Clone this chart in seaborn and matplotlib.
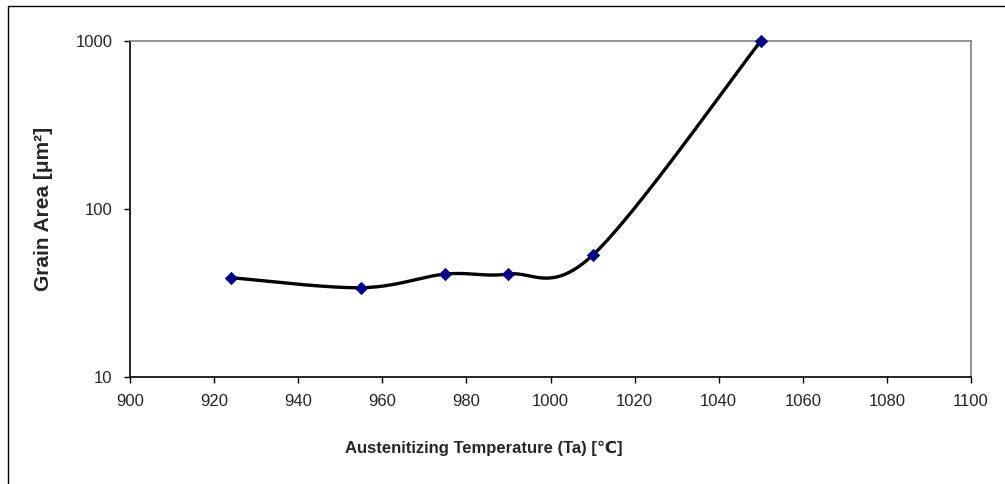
import numpy as np
import pandas as pd
import matplotlib
matplotlib.use('Agg')
import matplotlib.pyplot as plt
import seaborn as sns
from matplotlib.lines import Line2D

# data
temperature = [924, 955, 975, 990, 1010, 1050]
grain_area = [39, 34, 41, 41, 53, 1000]
x_ticks = [900, 920, 940, 960, 980, 1000, 1020, 1040, 1060, 1080, 1100]
y_ticks = [10, 100, 1000]

sns.set_style('white')
plt.rcParams['font.family'] = ['Liberation Sans', 'DejaVu Sans']


def smooth_curve(xs, ys, w=841.0, h=168.0, n=40):
    """Excel-like smoothed line: Catmull-Rom bezier in screen-like space."""
    u = (np.asarray(xs, float) - 900) / 200 * w
    v = np.log10(np.asarray(ys, float)) * h
    P = np.column_stack([u, v])
    P = np.vstack([P[0], P, P[-1]])
    out = []
    for i in range(1, len(P) - 2):
        p0, p1, p2, p3 = P[i - 1], P[i], P[i + 1], P[i + 2]
        c1 = p1 + (p2 - p0) / 6
        c2 = p2 - (p3 - p1) / 6
        t = np.linspace(0, 1, n)[:, None]
        seg = ((1 - t) ** 3) * p1 + 3 * ((1 - t) ** 2) * t * c1 \
            + 3 * (1 - t) * t ** 2 * c2 + t ** 3 * p2
        out.append(seg if i == 1 else seg[1:])
    out = np.vstack(out)
    return out[:, 0] / w * 200 + 900, 10 ** (out[:, 1] / h)


cx, cy = smooth_curve(temperature, grain_area)
curve = pd.DataFrame({'t': cx, 'a': cy})
pts = pd.DataFrame({'t': temperature, 'a': grain_area})

fig = plt.figure(figsize=(10.05, 4.84), dpi=100)
ax = fig.add_axes([130 / 1005, 1 - 377 / 484, 841 / 1005, 336 / 484])

sns.lineplot(data=curve, x='t', y='a', sort=False, color='black',
             linewidth=2.4, ax=ax, zorder=3)
sns.scatterplot(data=pts, x='t', y='a', marker='D', color='#000080',
                s=40, edgecolor='#000080', linewidth=0.5, ax=ax, zorder=4,
                clip_on=False)

ax.set_yscale('log')
ax.set_xlim(900, 1100)
ax.set_ylim(10, 1000)
ax.set_xticks(x_ticks)
ax.set_xticklabels([str(v) for v in x_ticks])
ax.set_yticks(y_ticks)
ax.set_yticklabels([str(v) for v in y_ticks])
ax.yaxis.set_minor_locator(matplotlib.ticker.NullLocator())

ax.tick_params(axis='both', direction='out', length=4.5, width=1,
               color='black', labelsize=12, pad=8,
               bottom=True, left=True)
for side in ['top', 'right']:
    ax.spines[side].set_color('#808080')
    ax.spines[side].set_linewidth(1.2)
for side in ['left', 'bottom']:
    ax.spines[side].set_color('black')
    ax.spines[side].set_linewidth(1.2)

ax.set_xlabel('Austenitizing Temperature (Ta) [\u2103]', fontsize=12,
              fontweight='bold')
ax.xaxis.set_label_coords(0.421, -0.19)
ax.set_ylabel('Grain Area [\u03bcm\u00b2]', fontsize=15, fontweight='bold')
ax.yaxis.set_label_coords(-0.092, 0.5)

# outer chart border (top and left edges visible)
fig.add_artist(Line2D([8 / 1005, 1.0], [1 - 6 / 484, 1 - 6 / 484],
                      transform=fig.transFigure, color='black', linewidth=1))
fig.add_artist(Line2D([8 / 1005, 8 / 1005], [0.0, 1 - 6 / 484],
                      transform=fig.transFigure, color='black', linewidth=1))

fig.savefig('out.png', dpi=100)
plt.close(fig)
